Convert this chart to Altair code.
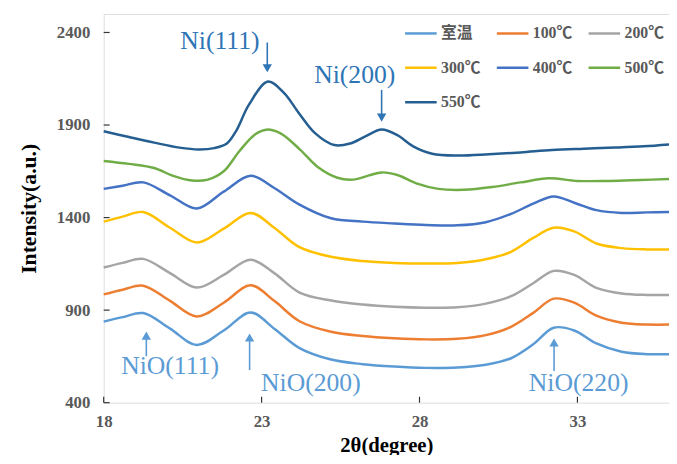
import altair as alt
import pandas as pd

# ---- data -------------------------------------------------------------
series_names = ["室温", "100℃", "200℃", "300℃", "400℃", "500℃", "550℃"]
series_colors = ["#5B9BD5", "#ED7D31", "#A5A5A5", "#FFC000", "#4472C4", "#70AD47", "#255E91"]

x_nio = [18, 18.6, 19.25, 20.1, 20.95, 21.8, 22.65, 23.4, 24.2, 25.2, 26.2, 27.2,
         28.2, 29.2, 30.1, 30.9, 31.6, 32.25, 32.9, 33.6, 34.4, 35.2, 35.9]
y_rt = [838, 862, 884, 800, 712, 790, 887, 800, 695, 633, 608, 595,
        588, 590, 605, 640, 715, 805, 790, 720, 675, 662, 662]
y_100 = [985, 1010, 1032, 950, 866, 940, 1034, 950, 840, 783, 760, 748,
         742, 745, 765, 810, 885, 962, 940, 870, 832, 822, 822]
y_200 = [1130, 1155, 1177, 1100, 1022, 1090, 1172, 1100, 995, 952, 930, 918,
         913, 915, 935, 975, 1045, 1112, 1090, 1020, 990, 982, 982]
y_300 = [1378, 1405, 1430, 1345, 1265, 1340, 1425, 1345, 1240, 1188, 1165, 1155,
         1152, 1155, 1175, 1215, 1290, 1345, 1325, 1260, 1235, 1228, 1228]
y_400 = [1555, 1572, 1590, 1520, 1449, 1540, 1626, 1560, 1470, 1396, 1378, 1368,
         1360, 1358, 1375, 1420, 1475, 1514, 1480, 1440, 1425, 1428, 1430]

x_500 = [18, 18.8, 19.6, 20.2, 20.8, 21.3, 21.8, 22.3, 22.8, 23.15, 23.6, 24.2,
         24.8, 25.4, 25.9, 26.4, 26.8, 27.3, 27.9, 28.6, 29.4, 30.3, 31.2, 32.1,
         33.0, 34.0, 35.0, 35.9]
y_500 = [1706, 1690, 1668, 1625, 1600, 1605, 1650, 1760, 1850, 1875, 1855, 1770,
         1670, 1615, 1605, 1628, 1644, 1630, 1585, 1555, 1550, 1565, 1590, 1612,
         1598, 1598, 1603, 1608]

x_550 = [18, 18.8, 19.6, 20.4, 21.0, 21.5, 21.9, 22.2, 22.6, 23.2, 23.7, 24.2,
         24.7, 25.3, 25.8, 26.3, 26.8, 27.3, 27.8, 28.4, 29.2, 30.2, 31.2, 32.2,
         33.2, 34.2, 35.1, 35.9]
y_550 = [1866, 1835, 1805, 1778, 1768, 1775, 1800, 1870, 2010, 2135, 2075, 1960,
         1855, 1792, 1800, 1840, 1876, 1845, 1785, 1745, 1735, 1742, 1752, 1765,
         1772, 1778, 1785, 1795]

x_ticks = [18, 23, 28, 33]
y_ticks = [400, 900, 1400, 1900, 2400]

ann_labels = ["Ni(111)", "Ni(200)", "NiO(111)", "NiO(200)", "NiO(220)"]
ann_text_x = [21.68, 25.95, 20.1, 24.56, 33.04]
ann_text_y = [2356, 2170, 597, 507, 507]
ann_arrow_x = [23.18, 26.8, 19.35, 22.62, 32.26]
ann_tail_y = [2346, 2090, 651, 576, 571]
ann_head_y = [2207, 1940, 762, 752, 725]
ann_dir = ["down", "down", "up", "up", "up"]
ann_colors = ["#2E75B6", "#2E75B6", "#5B9BD5", "#5B9BD5", "#5B9BD5"]

# ---- build table -------------------------------------------------------
rows = []
for name, xs, ys in zip(series_names,
                        [x_nio, x_nio, x_nio, x_nio, x_nio, x_500, x_550],
                        [y_rt, y_100, y_200, y_300, y_400, y_500, y_550]):
    for x, y in zip(xs, ys):
        rows.append({"series": name, "x": x, "y": y})
df = pd.DataFrame(rows)

ann = pd.DataFrame({
    "label": ann_labels, "tx": ann_text_x, "ty": ann_text_y,
    "ax": ann_arrow_x, "tail": ann_tail_y, "head": ann_head_y,
    "dir": ann_dir, "color": ann_colors,
})

W, H = 573, 394
xscale = alt.Scale(domain=[18, 35.9], nice=False, zero=False)
yscale = alt.Scale(domain=[400, 2500], nice=False, zero=False)
serif = "Liberation Serif, Times New Roman, serif"
lab_font = "Liberation Serif, Times New Roman, Noto Sans CJK SC, serif"

lines = alt.Chart(df).mark_line(strokeWidth=2.5, interpolate="catmull-rom").encode(
    x=alt.X("x:Q", scale=xscale,
            axis=alt.Axis(values=x_ticks, title="2θ(degree)", grid=False, ticks=False,
                          domain=False, format="d", labelFlush=False, labelFont=serif,
                          labelFontSize=17, labelFontWeight="bold", labelColor="#595959",
                          labelPadding=11, titleFont=serif, titleFontSize=21,
                          titleFontWeight="bold", titleColor="#000000", titlePadding=5)),
    y=alt.Y("y:Q", scale=yscale,
            axis=alt.Axis(values=y_ticks, title="Intensity(a.u.)", grid=False, ticks=False,
                          domain=False, format="d", labelFlush=False, labelFont=serif,
                          labelFontSize=17, labelFontWeight="bold", labelColor="#595959",
                          labelPadding=14, titleFont=serif, titleFontSize=22,
                          titleFontWeight="bold", titleColor="#000000", titlePadding=16)),
    color=alt.Color("series:N",
                    scale=alt.Scale(domain=series_names, range=series_colors),
                    sort=series_names,
                    legend=alt.Legend(title=None, orient="none", legendX=304, legendY=2,
                                      direction="horizontal", columns=3, columnPadding=10,
                                      rowPadding=9, symbolType="stroke", symbolSize=1024,
                                      symbolStrokeWidth=2.5, labelFont=lab_font,
                                      labelFontSize=16, labelFontWeight="bold",
                                      labelColor="#595959", labelOffset=3)),
    order=alt.Order("x:Q"),
)

ytick_df = pd.DataFrame({"v": y_ticks})
xtick_df = pd.DataFrame({"v": x_ticks})
yticks = alt.Chart(ytick_df).mark_rule(color="#333333", strokeWidth=1.2).encode(
    y=alt.Y("v:Q", scale=yscale), x=alt.value(0), x2=alt.value(6))
xticks = alt.Chart(xtick_df).mark_rule(color="#333333", strokeWidth=1.2).encode(
    x=alt.X("v:Q", scale=xscale), y=alt.value(H), y2=alt.value(H - 6))

ann_text = alt.Chart(ann).mark_text(font=serif, fontSize=26).encode(
    x=alt.X("tx:Q", scale=xscale), y=alt.Y("ty:Q", scale=yscale),
    text="label:N", color=alt.Color("color:N", scale=None))
shafts = alt.Chart(ann).mark_rule(strokeWidth=1.6).encode(
    x=alt.X("ax:Q", scale=xscale), y=alt.Y("tail:Q", scale=yscale), y2="head:Q",
    color=alt.Color("color:N", scale=None))
heads = alt.Chart(ann).mark_point(filled=True, size=90, opacity=1).encode(
    x=alt.X("ax:Q", scale=xscale), y=alt.Y("head:Q", scale=yscale),
    shape=alt.Shape("dir:N", scale=alt.Scale(domain=["down", "up"],
                                               range=["triangle-down", "triangle-up"]),
                    legend=None),
    color=alt.Color("color:N", scale=None))

chart = alt.layer(lines, yticks, xticks, shafts, heads, ann_text).properties(
    width=W, height=H,
    autosize=alt.AutoSizeParams(type="none"),
    padding={"left": 97, "top": 3, "right": 0, "bottom": 50},
).configure_view(stroke="#333333", strokeWidth=1.5).configure(background="white")

chart.save("out.html", embed_options={"renderer": "svg", "actions": False})
